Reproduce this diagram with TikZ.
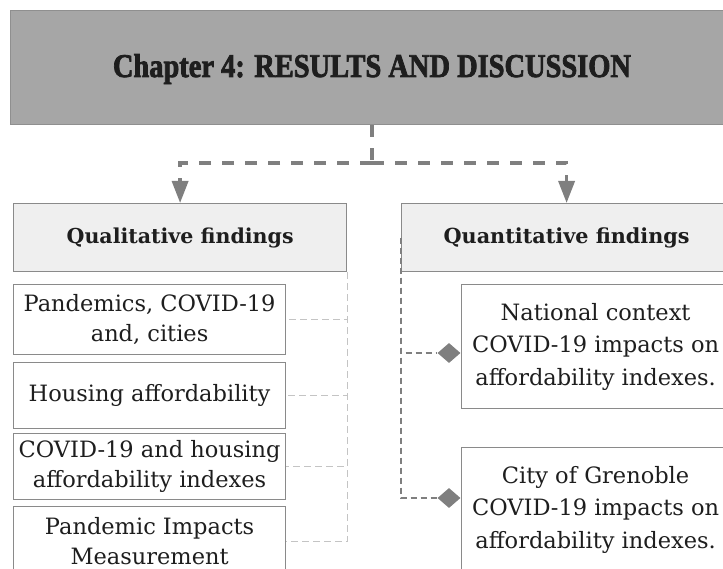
\documentclass[tikz,border=0pt]{standalone}
\usepackage{fontspec}
\setmainfont{DejaVu Serif}
\newfontfamily\titlefont[BoldFeatures={FakeBold=2.5}]{Liberation Serif}
\usetikzlibrary{arrows.meta,shapes.geometric}
\definecolor{topfill}{HTML}{A6A6A6}
\definecolor{topline}{HTML}{8F8F8F}
\definecolor{headfill}{HTML}{EFEFEF}
\definecolor{boxline}{HTML}{8A8A8A}
\definecolor{conn}{HTML}{7F7F7F}
\definecolor{lightconn}{HTML}{C4C4C4}
\definecolor{ink}{HTML}{1E1E1E}
\tikzset{
  topbox/.style={draw=topline, line width=1.2pt, fill=topfill, anchor=north west, inner sep=0pt},
  headbox/.style={draw=boxline, line width=1.2pt, fill=headfill, anchor=north west, inner sep=0pt, text=ink, align=center},
  itembox/.style={draw=boxline, line width=1.2pt, fill=white, anchor=north west, inner sep=0pt, text=ink, align=center, font=\fontsize{22.5}{30}\selectfont},
  ritembox/.style={itembox, font=\fontsize{22.5}{32.5}\selectfont},
  topconn/.style={draw=conn, line width=3.5pt, dash pattern=on 12pt off 11pt},
  tiparrow/.style={-{Triangle[length=22pt,width=16pt]}},
  lconn/.style={draw=lightconn, line width=1pt, dash pattern=on 7pt off 4pt},
  rconn/.style={draw=conn, line width=1.5pt, dash pattern=on 6pt off 4pt},
  gem/.style={diamond, fill=conn, inner sep=0pt, minimum width=23pt, minimum height=20pt}
}
\begin{document}
\begin{tikzpicture}[x=1pt, y=-1pt]
\useasboundingbox (0,0) rectangle (723,569);
\clip (0,0) rectangle (723,569);
% top
\node[topbox, minimum width=730pt, minimum height=114pt] (top) at (10,10) {};
\node[text=ink, anchor=base] (title) at (372,77) {\titlefont\bfseries\resizebox{518pt}{23pt}{Chapter 4: RESULTS AND DISCUSSION}};
% headers
\node[headbox, minimum width=333pt, minimum height=68pt] (lh) at (13,203) {\resizebox{227pt}{!}{\bfseries Qualitative findings}};
\node[headbox, minimum width=330pt, minimum height=68pt] (rh) at (401,203) {\resizebox{246pt}{!}{\bfseries Quantitative findings}};
% left items
\node[itembox, minimum width=272pt, minimum height=70pt] (b1) at (13,284) {Pandemics, COVID-19\\and, cities};
\node[itembox, minimum width=272pt, minimum height=66pt] (b2) at (13,362) {Housing affordability};
\node[itembox, minimum width=272pt, minimum height=66pt] (b3) at (13,433) {COVID-19 and housing\\affordability indexes};
\node[itembox, minimum width=272pt, minimum height=70pt] (b4) at (13,506) {Pandemic Impacts\\Measurement};
% right items
\node[ritembox, minimum width=268pt, minimum height=124pt] (r1) at (461,284) {National context\\COVID-19 impacts on\\affordability indexes.};
\node[ritembox, minimum width=268pt, minimum height=124pt] (r2) at (461,447) {City of Grenoble\\COVID-19 impacts on\\affordability indexes.};
% diamonds
\node[gem] (d1) at (449,353) {};
\node[gem] (d2) at (449,498) {};
% top connectors
\coordinate (split) at (372,163);
\draw[topconn] (title.center |- top.south) -- (split);
\draw[topconn, tiparrow] (split) -| (lh.north);
\draw[topconn, tiparrow] (split) -| (rh.north);
% left connectors
\draw[lconn] (lh.south east) |- (b1.east);
\draw[lconn] (lh.south east) |- (b2.east);
\draw[lconn] (lh.south east) |- (b3.east);
\draw[lconn] (lh.south east) |- (b4.east);
% right connectors
\draw[rconn] (rh.west) |- (d1.west);
\draw[rconn] (rh.west) |- (d2.west);
\end{tikzpicture}
\end{document}
